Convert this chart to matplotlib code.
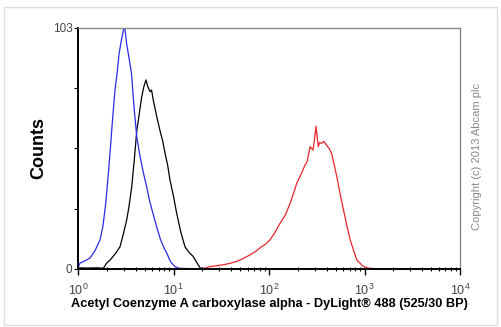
import numpy as np
import matplotlib.pyplot as plt
from matplotlib.patches import Rectangle

plt.rcParams['font.family'] = ['Liberation Sans', 'DejaVu Sans']
plt.rcParams['mathtext.fontset'] = 'custom'
plt.rcParams['mathtext.rm'] = 'Liberation Sans'

# histogram traces: decade exponent (log10 of intensity) and counts
blue_log = [0.0, 0.02, 0.06, 0.126, 0.18, 0.23, 0.26, 0.29, 0.318, 0.335, 0.36, 0.387, 0.41,
            0.43, 0.455, 0.475, 0.49, 0.51, 0.535, 0.56, 0.585, 0.615, 0.65, 0.685, 0.72,
            0.75, 0.79, 0.824, 0.86, 0.9, 0.93, 0.97, 1.016, 1.06, 1.2, 1.5, 2.0]
blue_cnt = [0.5, 2.5, 3.2, 4.7, 8.0, 12.4, 18.0, 28.0, 40.9, 49.6, 63.0, 76.5, 84.0,
            92.0, 98.0, 102.0, 103.0, 96.0, 90.0, 83.6, 70.0, 56.5, 48.0, 41.0, 35.0,
            29.0, 23.0, 18.0, 13.0, 9.0, 6.7, 3.0, 1.0, 0.3, 0.1, 0.0, 0.0]

black_log = [0.0, 0.1, 0.2, 0.265, 0.3, 0.335, 0.39, 0.44, 0.475, 0.51, 0.535, 0.562, 0.59,
             0.615, 0.64, 0.667, 0.69, 0.712, 0.73, 0.754, 0.77, 0.789, 0.825, 0.859, 0.885,
             0.911, 0.94, 0.963, 1.0, 1.033, 1.075, 1.12, 1.165, 1.207, 1.24, 1.28, 1.35,
             1.6, 2.0]
black_cnt = [0.5, 0.4, 0.5, 0.3, 2.5, 3.8, 6.5, 9.5, 15.0, 21.0, 27.0, 35.0, 47.0,
             59.0, 66.0, 73.6, 78.0, 80.8, 78.0, 75.8, 76.5, 72.0, 65.0, 59.0, 55.0,
             49.6, 44.0, 38.0, 31.0, 23.8, 16.0, 9.5, 7.0, 5.3, 3.0, 0.4, 0.1,
             0.0, 0.0]

red_log = [1.3, 1.38, 1.45, 1.52, 1.59, 1.66, 1.73, 1.8, 1.86, 1.92, 1.96, 2.01, 2.06,
           2.115, 2.17, 2.22, 2.25, 2.29, 2.33, 2.377, 2.4, 2.43, 2.46, 2.475, 2.492,
           2.505, 2.516, 2.53, 2.55, 2.575, 2.6, 2.63, 2.656, 2.68, 2.71, 2.745, 2.78,
           2.815, 2.85, 2.885, 2.92, 2.99, 3.05, 3.16, 3.5, 4.0]
red_cnt = [0.0, 1.0, 1.4, 1.8, 2.4, 3.2, 4.5, 6.0, 7.5, 9.5, 10.5, 12.4, 15.5,
           19.5, 23.0, 28.0, 31.5, 36.6, 40.0, 44.4, 46.0, 52.3, 50.8, 55.0, 61.0,
           56.0, 52.3, 54.0, 53.7, 54.5, 53.0, 51.5, 49.4, 45.0, 39.4, 32.0, 25.2,
           18.5, 12.4, 8.0, 3.8, 1.0, 0.3, 0.0, 0.0, 0.0]

y_max = 103
x_ticks = [1, 10, 100, 1000, 10000]
x_tick_labels = [r'$10^{0}$', r'$10^{1}$', r'$10^{2}$', r'$10^{3}$', r'$10^{4}$']

fig = plt.figure(figsize=(5.02, 3.27), dpi=100)
fig.patches.append(Rectangle((0.008, 0.006), 0.983, 0.972, transform=fig.transFigure,
                             fill=False, edgecolor='#dddddd', linewidth=1.0))
ax = fig.add_axes([0.1554, 0.1774, 0.761, 0.737])

ax.plot(10 ** np.array(black_log), black_cnt, color='black', lw=0.9)
ax.plot(10 ** np.array(red_log), red_cnt, color='#e8252a', lw=0.9)
ax.plot(10 ** np.array(blue_log), blue_cnt, color='#2a2ae8', lw=0.9)

ax.set_xscale('log')
ax.set_xlim(1, 10000)
ax.set_ylim(0, y_max)

ax.set_xticks(x_ticks)
ax.set_xticklabels(x_tick_labels, fontsize=9, color='#444444')
ax.set_yticks(np.linspace(0, y_max, 5))
ax.set_yticklabels(['0', '', '', '', '103'], fontsize=8.5, color='#444444')
ax.tick_params(axis='x', which='major', direction='out', length=4, width=1, pad=6)
ax.tick_params(axis='x', which='minor', direction='inout', length=3, width=0.8)
ax.tick_params(axis='y', direction='out', length=3, width=0.8, pad=1)

for side in ['left', 'bottom']:
    ax.spines[side].set_linewidth(1.4)
    ax.spines[side].set_color('black')
for side in ['top', 'right']:
    ax.spines[side].set_linewidth(1.0)
    ax.spines[side].set_color('#888888')

ax.set_xlabel('Acetyl Coenzyme A carboxylase alpha - DyLight\u00ae 488 (525/30 BP)',
              fontsize=9.2, fontweight='bold', labelpad=0)
ax.set_ylabel('Counts', fontsize=13, fontweight='bold')
ax.yaxis.set_label_coords(-0.081, 0.5)
fig.text(0.950, 0.523, 'Copyright (c) 2013 Abcam plc', rotation=90, fontsize=8,
         color='#888888', ha='center', va='center')

fig.savefig('out.png', dpi=100)
